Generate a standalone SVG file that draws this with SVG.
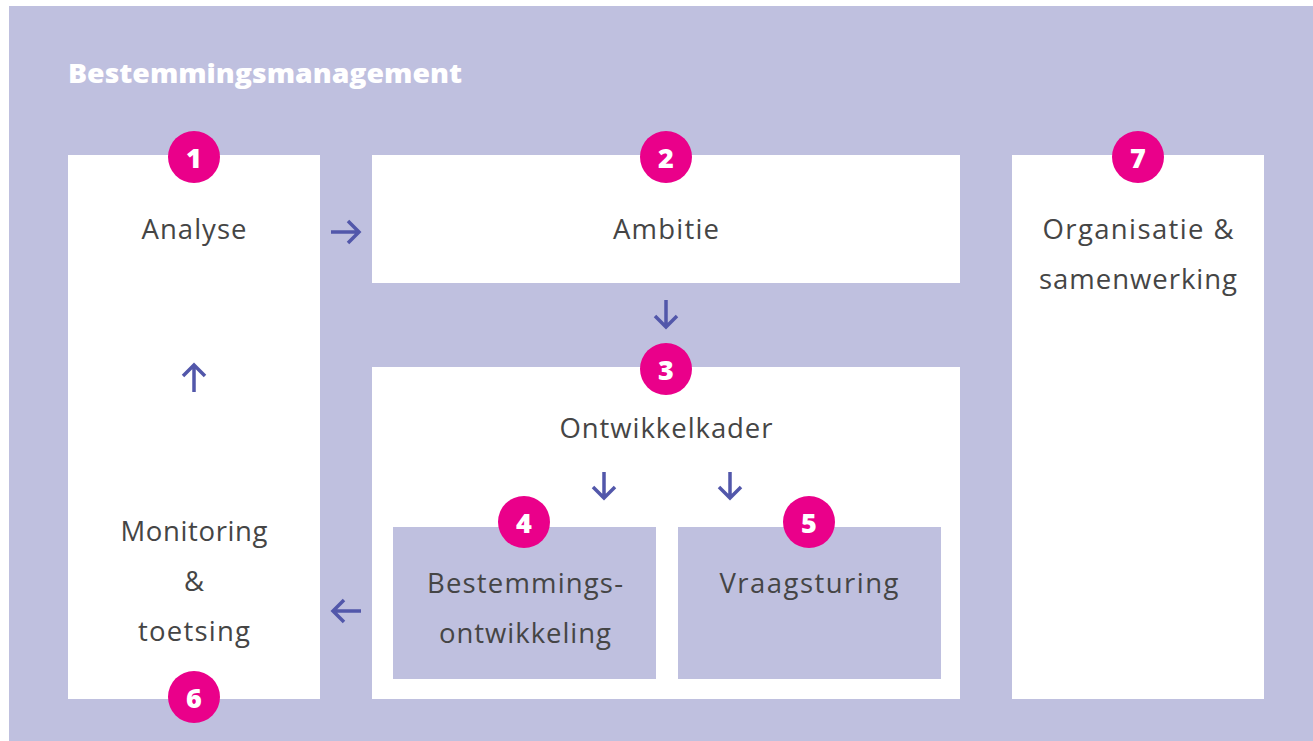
<svg xmlns="http://www.w3.org/2000/svg" width="1313" height="741" viewBox="0 0 1313 741">
<style>
.box{fill:#ffffff}
.sub{fill:#bfc0df}
.lbl{font-family:"Open Sans","Noto Sans",sans-serif;font-size:27.5px;fill:#454545;text-anchor:middle;dominant-baseline:central}
.badge{fill:#ea008a}
.num{font-family:"Open Sans","Noto Sans",sans-serif;font-size:27px;font-weight:800;fill:#ffffff;text-anchor:middle;dominant-baseline:central}
.arr{fill:none;stroke:#5257aa;stroke-width:3.5;stroke-linecap:butt;stroke-linejoin:miter}
</style>
<rect x="0" y="0" width="1313" height="741" fill="#ffffff"/>
<rect x="9" y="6" width="1304" height="735" fill="#bfc0df"/>
<text x="68" y="73" font-family="'Open Sans','Noto Sans',sans-serif" font-size="26" font-weight="800" fill="#ffffff" dominant-baseline="central" textLength="394" lengthAdjust="spacingAndGlyphs">Bestemmingsmanagement</text>
<g id="node1">
<rect class="box" x="68" y="155" width="252" height="544"/>
<circle class="badge" cx="194" cy="157" r="26"/><text class="num" x="194" y="157">1</text>
<text class="lbl" x="194" y="228" textLength="105">Analyse</text>
</g>
<g id="node6">
<text class="lbl" x="194" y="530" textLength="147">Monitoring</text>
<text class="lbl" x="194" y="580">&amp;</text>
<text class="lbl" x="194" y="630" textLength="112">toetsing</text>
<circle class="badge" cx="194" cy="697" r="26"/><text class="num" x="194" y="697">6</text>
</g>
<g id="node2">
<rect class="box" x="372" y="155" width="588" height="128"/>
<circle class="badge" cx="666" cy="157" r="26"/><text class="num" x="666" y="157">2</text>
<text class="lbl" x="666" y="228" textLength="106">Ambitie</text>
</g>
<g id="node3">
<rect class="box" x="372" y="367" width="588" height="332"/>
<circle class="badge" cx="666" cy="369" r="26"/><text class="num" x="666" y="369">3</text>
<text class="lbl" x="666" y="427" textLength="213">Ontwikkelkader</text>
</g>
<g id="node4">
<rect class="sub" x="393" y="527" width="263" height="152"/>
<circle class="badge" cx="524" cy="522" r="26"/><text class="num" x="524" y="522">4</text>
<text class="lbl" x="525" y="582" textLength="196">Bestemmings-</text>
<text class="lbl" x="525" y="632" textLength="172">ontwikkeling</text>
</g>
<g id="node5">
<rect class="sub" x="678" y="527" width="263" height="152"/>
<circle class="badge" cx="809" cy="522" r="26"/><text class="num" x="809" y="522">5</text>
<text class="lbl" x="809" y="582" textLength="179">Vraagsturing</text>
</g>
<g id="node7">
<rect class="box" x="1012" y="155" width="252" height="544"/>
<circle class="badge" cx="1138" cy="157" r="26"/><text class="num" x="1138" y="157">7</text>
<text class="lbl" x="1138" y="228" textLength="191">Organisatie &amp;</text>
<text class="lbl" x="1138" y="278" textLength="198">samenwerking</text>
</g>
<g id="connectors">
<path class="arr" d="M331 232H359M348 221L359 232L348 243"/>
<path class="arr" d="M666 300V327M655 316L666 327L677 316"/>
<path class="arr" d="M194 392V365M183 376L194 365L205 376"/>
<path class="arr" d="M604 472V498M593 487L604 498L615 487"/>
<path class="arr" d="M730 472V498M719 487L730 498L741 487"/>
<path class="arr" d="M361 611H333M344 600L333 611L344 622"/>
</g>
</svg>
